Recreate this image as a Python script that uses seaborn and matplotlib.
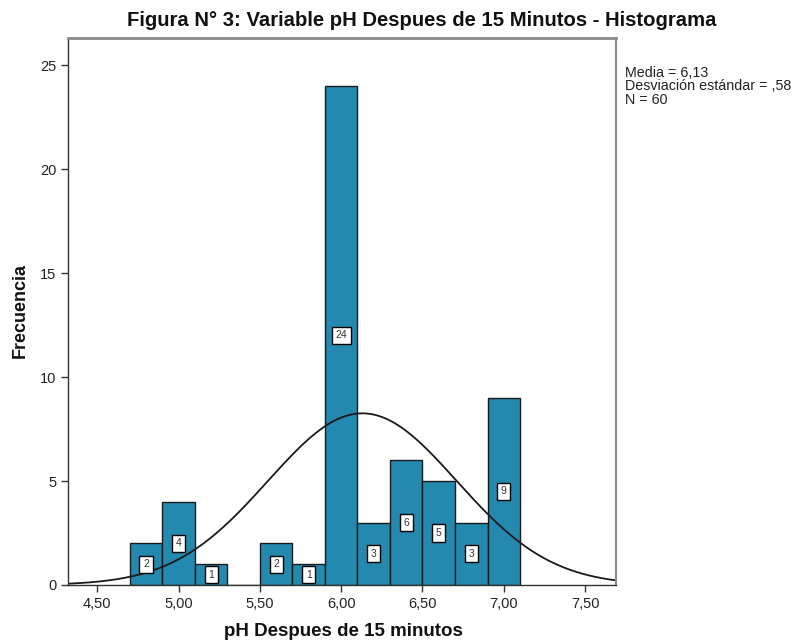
import numpy as np
import pandas as pd
import matplotlib
matplotlib.use("Agg")
import matplotlib.pyplot as plt
import seaborn as sns

# Data
bin_edges = [4.7, 4.9, 5.1, 5.3, 5.5, 5.7, 5.9, 6.1, 6.3, 6.5, 6.7, 6.9, 7.1]
counts = [2, 4, 1, 0, 2, 1, 24, 3, 6, 5, 3, 9]
mean_val = 6.13
sd_val = 0.58
n_val = 60
x_ticks = [4.5, 5.0, 5.5, 6.0, 6.5, 7.0, 7.5]
x_tick_labels = ["4,50", "5,00", "5,50", "6,00", "6,50", "7,00", "7,50"]
y_ticks = [0, 5, 10, 15, 20, 25]

sns.set_theme(style="white")
plt.rcParams['font.family'] = ['Liberation Sans', 'DejaVu Sans']

centers = [(a + b) / 2 for a, b in zip(bin_edges[:-1], bin_edges[1:])]
df = pd.DataFrame({"ph": centers, "n": counts})

fig = plt.figure(figsize=(7.97, 6.43), dpi=100)
ax = fig.add_axes([68 / 797, 58 / 643, (616 - 68) / 797, (585 - 38) / 643])

sns.histplot(data=df, x="ph", weights="n", bins=bin_edges, ax=ax,
             color="#2389AE", alpha=1.0, edgecolor="#1a1a1a", linewidth=1.0)

# Normal curve
xmin, xmax = 4.32, 7.69
xs = np.linspace(xmin, xmax, 300)
bw = bin_edges[1] - bin_edges[0]
ys = n_val * bw / (sd_val * np.sqrt(2 * np.pi)) * np.exp(-0.5 * ((xs - mean_val) / sd_val) ** 2)
sns.lineplot(x=xs, y=ys, ax=ax, color="#1a1a1a", linewidth=1.3)

# Bar labels
for c, n in zip(centers, counts):
    if n > 0:
        ax.text(c, n / 2, str(n), ha="center", va="center", fontsize=7.5, color="#333333",
                bbox=dict(boxstyle="square,pad=0.35", fc="white", ec="black", lw=1.0))

ax.set_xlim(xmin, xmax)
ax.set_ylim(0, 26.3)
ax.set_xticks(x_ticks)
ax.set_xticklabels(x_tick_labels, fontsize=10.5)
ax.set_yticks(y_ticks)
ax.set_yticklabels([str(v) for v in y_ticks], fontsize=10.5)
ax.tick_params(axis="both", direction="out", length=5, width=1, color="#333333",
               labelcolor="#222222", bottom=True, left=True)
for s in ax.spines.values():
    s.set_color("#333333")
    s.set_linewidth(1.0)
ax.spines["top"].set_color("#888888")
ax.spines["top"].set_linewidth(2)
ax.spines["right"].set_color("#888888")
ax.spines["right"].set_linewidth(1.5)

ax.set_xlabel("")
ax.set_ylabel("")
fig.text(343 / 797, 1 - 631 / 643, "pH Despues de 15 minutos", ha="center", va="center",
         fontsize=13.5, fontweight="bold", color="#111111")
fig.text(20 / 797, 1 - 310 / 643, "Frecuencia", ha="center", va="center", rotation=90,
         fontsize=13, fontweight="bold", color="#111111")

fig.text(422 / 797, 1 - 20 / 643, "Figura N° 3: Variable pH Despues de 15 Minutos - Histograma",
         ha="center", va="center", fontsize=14.6, fontweight="bold", color="#111111")

fig.text(625 / 797, 1 - 66 / 643,
         "Media = 6,13\nDesviación estándar = ,58\nN = 60",
         ha="left", va="top", fontsize=10.3, color="#222222", linespacing=0.95)

fig.savefig("out.png", dpi=100)
